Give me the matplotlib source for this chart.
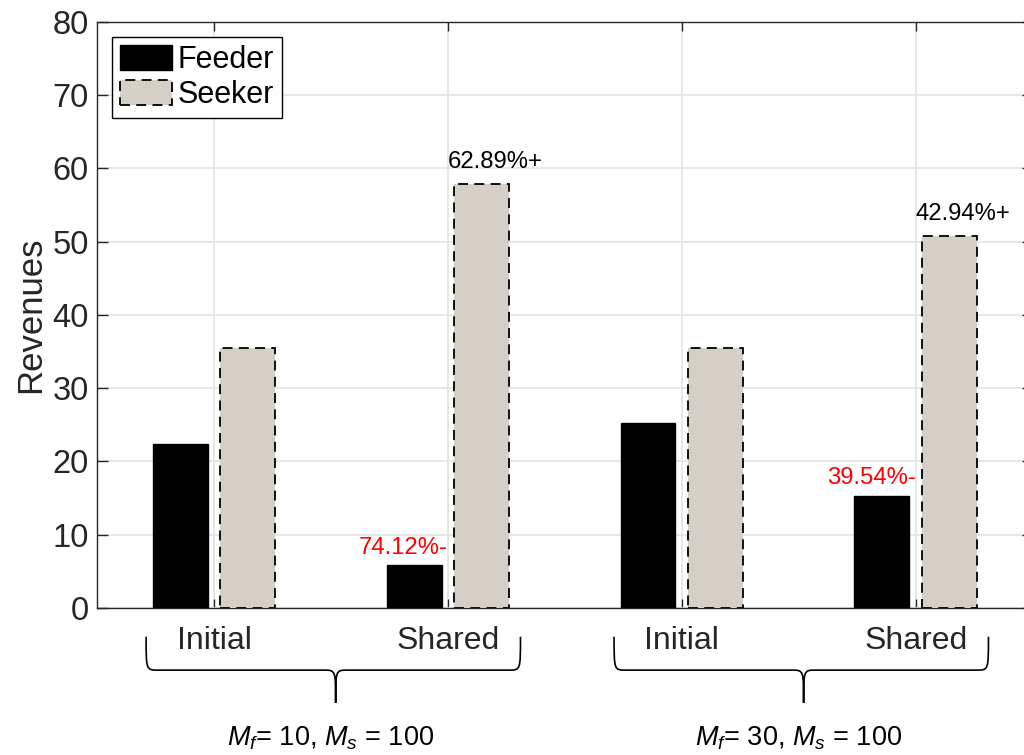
import numpy as np
import matplotlib
matplotlib.use('Agg')
import matplotlib.pyplot as plt
from matplotlib.path import Path
from matplotlib.patches import PathPatch
import matplotlib.transforms as mtransforms

plt.rcParams['font.family'] = ['Liberation Sans', 'DejaVu Sans']
plt.rcParams['mathtext.fontset'] = 'custom'
plt.rcParams['mathtext.rm'] = 'Liberation Sans'
plt.rcParams['mathtext.it'] = 'Liberation Sans:italic'

# data
categories = ['Initial', 'Shared', 'Initial', 'Shared']
feeder = [22.45, 5.81, 25.25, 15.27]
seeker = [35.5, 57.83, 35.5, 50.74]
feeder_change = ['', '74.12%-', '', '39.54%-']
seeker_change = ['', '62.89%+', '', '42.94%+']
groups = [r'$M_f$= 10, $M_s$ = 100', r'$M_f$= 30, $M_s$ = 100']

dark = '#262626'
x = np.arange(1, len(categories) + 1)
w = 0.235
off = 0.145

fig = plt.figure(figsize=(10.24, 7.55), dpi=100)
ax = fig.add_axes([0.0947, 0.1947, 0.914, 0.7762])

ax.bar(x - off, feeder, w, color='black', edgecolor='black', linewidth=1,
       label='Feeder', zorder=3)
ax.bar(x + off, seeker, w, color='#d4d0c8', edgecolor='black', linewidth=1.3,
       linestyle=(0, (5.5, 3.5)), label='Seeker', zorder=3)

for i in range(len(x)):
    if seeker_change[i]:
        ax.text(x[i], seeker[i] + 2.2, seeker_change[i], ha='left',
                va='baseline', fontsize=17.2, color='black')
    if feeder_change[i]:
        ax.text(x[i], feeder[i] + 1.6, feeder_change[i], ha='right',
                va='baseline', fontsize=17.2, color='red')

ax.set_xlim(0.5, 4.5)
ax.set_ylim(0, 80)
ax.set_yticks(np.arange(0, 81, 10))
ax.set_xticks(x)
ax.set_xticklabels(categories)
ax.tick_params(axis='y', direction='in', length=8, width=1, labelsize=23.5,
               colors=dark, right=True, pad=6)
ax.tick_params(axis='x', direction='in', length=6.5, width=1, labelsize=23,
               colors=dark, top=True, pad=13)
for s in ax.spines.values():
    s.set_color(dark)
    s.set_linewidth(1)
ax.grid(True, color='#e3e3e3', linewidth=1.2, zorder=0)
ax.set_axisbelow(True)
ax.set_ylabel('Revenues', fontsize=25, color=dark, labelpad=4)

leg = ax.legend(loc='upper left', fontsize=22, frameon=True, fancybox=False,
                edgecolor='black', framealpha=1, borderaxespad=0.5,
                handlelength=1.7, handleheight=0.9, handletextpad=0.2,
                labelspacing=0.15, borderpad=0.25)
leg.get_frame().set_linewidth(1)

# braces under each pair of categories
trans = mtransforms.blended_transform_factory(ax.transData, ax.transAxes)
yt, ym, yb = -0.049, -0.106, -0.162
r = 0.05
for g, label in enumerate(groups):
    x0 = x[2 * g] - 0.29
    x1 = x[2 * g + 1] + 0.31
    xc = (x[2 * g] + x[2 * g + 1]) / 2 + 0.02
    verts = [(x0, yt), (x0, ym), (x0, ym), (x0 + r, ym),
             (xc - r, ym),
             (xc, ym), (xc, ym), (xc, yb),
             (xc, ym), (xc, ym), (xc + r, ym),
             (x1 - r, ym),
             (x1, ym), (x1, ym), (x1, yt)]
    codes = [Path.MOVETO, Path.CURVE4, Path.CURVE4, Path.CURVE4,
             Path.LINETO,
             Path.CURVE4, Path.CURVE4, Path.CURVE4,
             Path.CURVE4, Path.CURVE4, Path.CURVE4,
             Path.LINETO,
             Path.CURVE4, Path.CURVE4, Path.CURVE4]
    ax.add_patch(PathPatch(Path(verts, codes), transform=trans, fill=False,
                           edgecolor='black', linewidth=1.2, clip_on=False))
    ax.text(xc - 0.02, -0.223, label, transform=trans, ha='center',
            va='center', fontsize=19.5, color='black')

fig.savefig('out.png', dpi=100)
